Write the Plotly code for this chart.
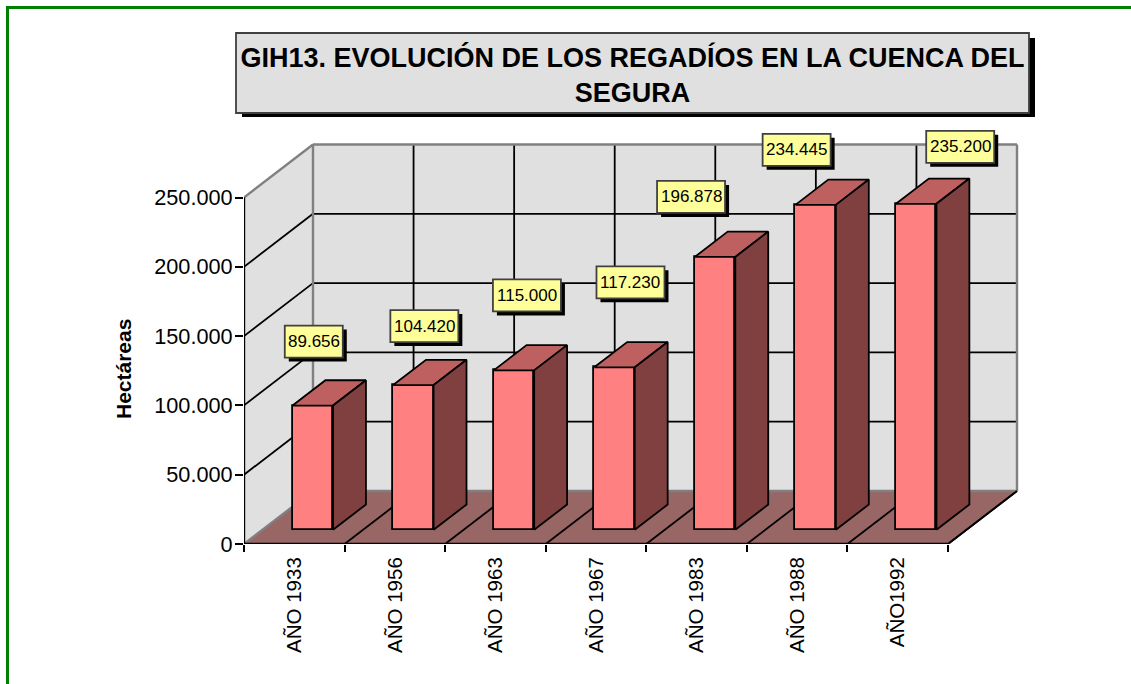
import plotly.graph_objects as go

# ---- data ----
categories = ["AÑO 1933", "AÑO 1956", "AÑO 1963", "AÑO 1967", "AÑO 1983", "AÑO 1988", "AÑO1992"]
hectareas = [89656, 104420, 115000, 117230, 196878, 234445, 235200]
value_ticks = [0, 50000, 100000, 150000, 200000, 250000]
title_text = "GIH13. EVOLUCIÓN DE LOS REGADÍOS EN LA CUENCA DEL<br>SEGURA"
y_title = "Hectáreas"

# ---- label nudges in pixels, relative to the bar's front top ----
label_dx = [1, 11, 13, 16, -24, -19, 44]
label_dy = [64, 59, 75, 85, 60, 55, 57]

# ---- 3D projection constants, in axis units ----
W, H = 1131, 684
L, R, T, B = 244, 100, 120, 140
CAT_PX = 704 / 7
VAL_PX = 69.3 / 50000
DEPTH_X = 69 / CAT_PX
DEPTH_Y = 53 / VAL_PX
D0, D1 = 0.268, 0.745
BAR_W = 40.5 / CAT_PX
X_MAX = (W - R - L) / CAT_PX
Y_MAX = (H - B - T) / VAL_PX
n = len(categories)

WALL, FLOOR = "#E0E0E0", "#996666"
FRONT, TOP, SIDE = "#FF8080", "#BF6060", "#804040"
GREY, BLACK = "#808080", "#000000"


def proj(x, v, d):
    return x + d * DEPTH_X, v + d * DEPTH_Y


def path(points):
    return "M " + " L ".join(f"{a},{b}" for a, b in points) + " Z"


def px(x):
    return (x - L) / (W - L - R)


def py(y):
    return 1 - (y - T) / (H - T - B)


top_val = value_ticks[-1]
shapes = []


def poly(points, fill):
    shapes.append(dict(type="path", path=path(points), fillcolor=fill,
                       line=dict(width=0), layer="below"))


def seg(a, b, color=BLACK, width=1.8, layer="below"):
    shapes.append(dict(type="line", x0=a[0], y0=a[1], x1=b[0], y1=b[1],
                       line=dict(color=color, width=width), layer=layer))


# walls and floor
poly([proj(0, 0, 0), proj(0, 0, 1), proj(0, top_val, 1), proj(0, top_val, 0)], WALL)
poly([proj(0, 0, 1), proj(n, 0, 1), proj(n, top_val, 1), proj(0, top_val, 1)], WALL)
poly([proj(0, 0, 0), proj(n, 0, 0), proj(n, 0, 1), proj(0, 0, 1)], FLOOR)

# grid
for v in value_ticks[1:-1]:
    seg(proj(0, v, 0), proj(0, v, 1))
    seg(proj(0, v, 1), proj(n, v, 1))
for i in range(1, n):
    seg(proj(i, 0, 1), proj(i, top_val, 1))
for i in range(1, n + 1):
    seg(proj(i, 0, 0), proj(i, 0, 1))

# wall edges
for a, b in [
    (proj(0, top_val, 0), proj(0, top_val, 1)),
    (proj(0, top_val, 1), proj(n, top_val, 1)),
    (proj(n, top_val, 1), proj(n, 0, 1)),
    (proj(0, top_val, 1), proj(0, 0, 1)),
    (proj(0, 0, 1), proj(n, 0, 1)),
    (proj(0, 0, 0), proj(0, 0, 1)),
]:
    seg(a, b, GREY, 2.4)
seg(proj(n, 0, 0), proj(n, 0, 1))

# axis lines
seg((0, 0), (n, 0), BLACK, 2.6, "above")
seg((0, 0), (0, top_val), BLACK, 2.4, "above")

fig = go.Figure()

# front faces
centers = [i + 0.5 + D0 * DEPTH_X for i in range(n)]
fig.add_trace(go.Bar(
    x=centers, y=hectareas, base=[D0 * DEPTH_Y] * n, width=BAR_W,
    marker=dict(color=FRONT, line=dict(color=BLACK, width=1.8)),
    hoverinfo="skip", showlegend=False,
))

# top and side faces
for c, v in zip(centers, hectareas):
    xl, xr = c - BAR_W / 2, c + BAR_W / 2
    base = D0 * DEPTH_Y
    depth = D1 - D0
    top = [(xl, v + base), (xr, v + base),
           proj(xr, v + base, depth), proj(xl, v + base, depth), (xl, v + base)]
    side = [(xr, base), proj(xr, base, depth), proj(xr, v + base, depth),
            (xr, v + base), (xr, base)]
    for pts, col in ((top, TOP), (side, SIDE)):
        fig.add_trace(go.Scatter(
            x=[p[0] for p in pts], y=[p[1] for p in pts], mode="lines",
            fill="toself", fillcolor=col, line=dict(color=BLACK, width=1.8),
            hoverinfo="skip", showlegend=False, cliponaxis=False,
        ))

# data labels
annotations = []
for c, v, dx, dy in zip(centers, hectareas, label_dx, label_dy):
    text = f"{v:,}".replace(",", ".")
    half = 29 if len(text) == 6 else 34
    yv = v + D0 * DEPTH_Y
    anchor = dict(type="rect", xref="x", yref="y", xsizemode="pixel", ysizemode="pixel",
                  xanchor=c, yanchor=yv, layer="above")
    shapes.append(dict(anchor, x0=dx - half + 4, x1=dx + half + 4, y0=dy - 16 - 4, y1=dy + 16 - 4,
                       fillcolor=BLACK, line=dict(width=0)))
    shapes.append(dict(anchor, x0=dx - half, x1=dx + half, y0=dy - 16, y1=dy + 16,
                       fillcolor="#FFFF99", line=dict(color="#404040", width=1.8)))
    annotations.append(dict(x=c, y=yv, xref="x", yref="y", text=text, showarrow=False,
                            xshift=dx, yshift=dy, font=dict(size=17, color="#000000",
                                                            family="Liberation Sans")))

# axis title
annotations.append(dict(x=px(123), y=py(369), xref="paper", yref="paper", text=f"<b>{y_title}</b>",
                        textangle=-90, showarrow=False, xanchor="center", yanchor="middle",
                        font=dict(size=21, color="#000000", family="Liberation Sans")))

# title box and page frame
shapes.append(dict(type="rect", xref="paper", yref="paper", x0=px(242), x1=px(1035), y0=py(117), y1=py(38),
                   fillcolor=BLACK, line=dict(width=0), layer="above"))
shapes.append(dict(type="rect", xref="paper", yref="paper", x0=px(236), x1=px(1029), y0=py(113), y1=py(33),
                   fillcolor=WALL, line=dict(color="#404040", width=1.8), layer="above"))
shapes.append(dict(type="path", xref="paper", yref="paper",
                   path=f"M {px(7.5)},{py(700)} L {px(7.5)},{py(7.5)} L {px(1140)},{py(7.5)}",
                   line=dict(color="#008000", width=3), layer="above"))

fig.update_layout(
    width=W, height=H, paper_bgcolor="#FFFFFF", plot_bgcolor="#FFFFFF",
    margin=dict(l=L, r=R, t=T, b=B, pad=0, autoexpand=False),
    separators=",.", showlegend=False, bargap=0,
    font=dict(family="Liberation Sans", color="#000000"),
    title=dict(text=f"<b>{title_text}</b>", xref="container", yref="container", x=632.5 / W, y=1 - 67 / H,
               xanchor="center", yanchor="middle",
               font=dict(size=27, color="#000000", family="Liberation Sans")),
    shapes=shapes, annotations=annotations,
    xaxis=dict(range=[0, X_MAX], tickmode="array", tickvals=[i + 0.5 for i in range(n)],
               ticktext=categories, tickangle=-90, ticks="outside", ticklen=4,
               tickcolor="rgba(0,0,0,0)", tickfont=dict(size=20.5), showgrid=False,
               zeroline=False, showline=False, automargin=False,
               minor=dict(tickmode="array", tickvals=list(range(n + 1)), ticks="outside",
                          ticklen=7, tickwidth=1.6, tickcolor=BLACK, showgrid=False)),
    yaxis=dict(range=[0, Y_MAX], tickmode="array", tickvals=value_ticks, tickformat=",d",
               ticks="outside", ticklen=8, tickwidth=1.8, tickcolor=BLACK, tickfont=dict(size=21.7),
               ticklabelstandoff=-2, showgrid=False, zeroline=False, showline=False, automargin=False),
)

fig.write_html("out.html", config={"displayModeBar": False},
               post_script="document.body.style.margin='0';document.body.style.overflow='hidden';")
